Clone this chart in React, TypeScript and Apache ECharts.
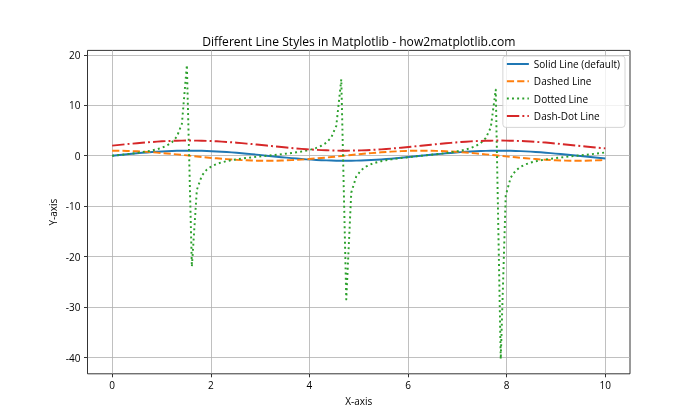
import React, { useEffect, useRef } from "react";
import * as echarts from "echarts";

const xs = [
  0.0, 0.101, 0.202, 0.303, 0.404, 0.505, 0.606, 0.707, 0.808, 0.909,
  1.01, 1.111, 1.212, 1.313, 1.414, 1.515, 1.616, 1.717, 1.818, 1.919,
  2.02, 2.121, 2.222, 2.323, 2.424, 2.525, 2.626, 2.727, 2.828, 2.929,
  3.03, 3.131, 3.232, 3.333, 3.434, 3.535, 3.636, 3.737, 3.838, 3.939,
  4.04, 4.141, 4.242, 4.343, 4.444, 4.545, 4.646, 4.747, 4.848, 4.949,
  5.051, 5.152, 5.253, 5.354, 5.455, 5.556, 5.657, 5.758, 5.859, 5.96,
  6.061, 6.162, 6.263, 6.364, 6.465, 6.566, 6.667, 6.768, 6.869, 6.97,
  7.071, 7.172, 7.273, 7.374, 7.475, 7.576, 7.677, 7.778, 7.879, 7.98,
  8.081, 8.182, 8.283, 8.384, 8.485, 8.586, 8.687, 8.788, 8.889, 8.99,
  9.091, 9.192, 9.293, 9.394, 9.495, 9.596, 9.697, 9.798, 9.899, 10.0,
];

const solidValues = [
  0.0, 0.1, 0.2, 0.3, 0.39, 0.48, 0.57, 0.65, 0.72, 0.79,
  0.85, 0.9, 0.94, 0.97, 0.99, 1.0, 1.0, 0.99, 0.97, 0.94,
  0.9, 0.85, 0.79, 0.73, 0.66, 0.58, 0.49, 0.4, 0.31, 0.21,
  0.11, 0.01, -0.09, -0.19, -0.29, -0.38, -0.48, -0.56, -0.64, -0.72,
  -0.78, -0.84, -0.89, -0.93, -0.96, -0.99, -1.0, -1.0, -0.99, -0.97,
  -0.94, -0.91, -0.86, -0.8, -0.74, -0.67, -0.59, -0.5, -0.41, -0.32,
  -0.22, -0.12, -0.02, 0.08, 0.18, 0.28, 0.37, 0.47, 0.55, 0.63,
  0.71, 0.78, 0.84, 0.89, 0.93, 0.96, 0.98, 1.0, 1.0, 0.99,
  0.97, 0.95, 0.91, 0.86, 0.81, 0.74, 0.67, 0.6, 0.51, 0.42,
  0.33, 0.23, 0.13, 0.03, -0.07, -0.17, -0.27, -0.36, -0.46, -0.54,
];

const dashedValues = [
  1.0, 0.99, 0.98, 0.95, 0.92, 0.88, 0.82, 0.76, 0.69, 0.61,
  0.53, 0.44, 0.35, 0.26, 0.16, 0.06, -0.05, -0.15, -0.25, -0.34,
  -0.44, -0.52, -0.61, -0.68, -0.75, -0.82, -0.87, -0.91, -0.95, -0.98,
  -0.99, -1.0, -1.0, -0.98, -0.96, -0.92, -0.88, -0.83, -0.77, -0.7,
  -0.62, -0.54, -0.45, -0.36, -0.26, -0.17, -0.07, 0.04, 0.14, 0.24,
  0.33, 0.43, 0.51, 0.6, 0.68, 0.75, 0.81, 0.86, 0.91, 0.95,
  0.98, 0.99, 1.0, 1.0, 0.98, 0.96, 0.93, 0.88, 0.83, 0.77,
  0.71, 0.63, 0.55, 0.46, 0.37, 0.27, 0.18, 0.08, -0.02, -0.13,
  -0.23, -0.32, -0.42, -0.51, -0.59, -0.67, -0.74, -0.8, -0.86, -0.91,
  -0.94, -0.97, -0.99, -1.0, -1.0, -0.99, -0.96, -0.93, -0.89, -0.84,
];

const dottedValues = [
  0.0, 0.1, 0.2, 0.31, 0.43, 0.55, 0.69, 0.85, 1.05, 1.28,
  1.59, 2.02, 2.67, 3.79, 6.33, 17.96, -22.0, -6.79, -3.95, -2.75,
  -2.07, -1.63, -1.31, -1.07, -0.87, -0.71, -0.57, -0.44, -0.33, -0.22,
  -0.11, -0.01, 0.09, 0.19, 0.3, 0.42, 0.54, 0.68, 0.84, 1.03,
  1.26, 1.56, 1.97, 2.58, 3.64, 5.93, 15.14, -28.47, -7.31, -4.13,
  -2.84, -2.13, -1.67, -1.34, -1.09, -0.89, -0.73, -0.58, -0.45, -0.34,
  -0.23, -0.12, -0.02, 0.08, 0.18, 0.29, 0.4, 0.53, 0.66, 0.82,
  1.0, 1.23, 1.52, 1.92, 2.51, 3.5, 5.58, 13.09, -40.3, -7.91,
  -4.33, -2.94, -2.19, -1.71, -1.37, -1.11, -0.91, -0.74, -0.6, -0.47,
  -0.35, -0.24, -0.13, -0.03, 0.07, 0.17, 0.28, 0.39, 0.51, 0.65,
];

const dashDotValues = [
  2.0, 2.1, 2.2, 2.3, 2.39, 2.48, 2.57, 2.65, 2.72, 2.79,
  2.85, 2.9, 2.94, 2.97, 2.99, 3.0, 3.0, 2.99, 2.97, 2.94,
  2.9, 2.85, 2.79, 2.73, 2.66, 2.58, 2.49, 2.4, 2.31, 2.21,
  2.11, 2.01, 1.91, 1.81, 1.71, 1.62, 1.52, 1.44, 1.36, 1.28,
  1.22, 1.16, 1.11, 1.07, 1.04, 1.01, 1.0, 1.0, 1.01, 1.03,
  1.06, 1.09, 1.14, 1.2, 1.26, 1.33, 1.41, 1.5, 1.59, 1.68,
  1.78, 1.88, 1.98, 2.08, 2.18, 2.28, 2.37, 2.47, 2.55, 2.63,
  2.71, 2.78, 2.84, 2.89, 2.93, 2.96, 2.98, 3.0, 3.0, 2.99,
  2.97, 2.95, 2.91, 2.86, 2.81, 2.74, 2.67, 2.6, 2.51, 2.42,
  2.33, 2.23, 2.13, 2.03, 1.93, 1.83, 1.73, 1.64, 1.54, 1.46,
];

const seriesNames = ["Solid Line (default)", "Dashed Line", "Dotted Line", "Dash-Dot Line"];
const xTicks = [0, 2, 4, 6, 8, 10];
const yTicks = [-40, -30, -20, -10, 0, 10, 20];

const FONT = "'Open Sans', 'Noto Sans', sans-serif";

export default function App() {
  const ref = useRef<HTMLDivElement>(null);
  useEffect(() => {
    document.body.style.margin = "0";
    const chart = echarts.init(ref.current!, null, { renderer: "svg" });
    const pair = (ys: number[]) => xs.map((x, i) => [x, ys[i]]);
    const lw = 1.94;
    const mk = (name: string, ys: number[], color: string, type: any) => ({
      name,
      type: "line",
      data: pair(ys),
      showSymbol: false,
      symbol: "none",
      lineStyle: { color, width: lw, type, cap: "butt", join: "round" },
      itemStyle: { color },
      emphasis: { disabled: true },
      silent: true,
    });
    chart.setOption({
      animation: false,
      textStyle: { fontFamily: FONT },
      grid: {
        left: 87.5,
        top: 50.4,
        width: 542.5,
        height: 323.4,
        show: true,
        borderColor: "#000",
        borderWidth: 0.8,
        backgroundColor: "transparent",
        containLabel: false,
      },
      xAxis: {
        type: "value",
        min: -0.5,
        max: 10.5,
        axisLine: { show: false, onZero: false },
        axisTick: { show: true, customValues: xTicks, length: 3.5, lineStyle: { color: "#000", width: 0.8 } },
        axisLabel: {
          customValues: xTicks,
          margin: 6,
          color: "#000",
          fontSize: 10,
          fontFamily: FONT,
        },
        splitLine: { show: true, lineStyle: { color: "#b0b0b0", width: 0.8 } },
      },
      yAxis: {
        type: "value",
        min: -43.22,
        max: 20.87,
        axisLine: { show: false, onZero: false },
        axisTick: { show: true, customValues: yTicks, length: 3.5, lineStyle: { color: "#000", width: 0.8 } },
        axisLabel: {
          customValues: yTicks,
          margin: 7,
          color: "#000",
          fontSize: 10,
          fontFamily: FONT,
        },
        splitLine: { show: true, lineStyle: { color: "#b0b0b0", width: 0.8 } },
      },
      legend: {
        data: seriesNames,
        orient: "vertical",
        right: 75,
        top: 56,
        itemWidth: 22,
        itemHeight: 12,
        itemGap: 7.3,
        padding: [3, 5, 6.5, 3],
        backgroundColor: "rgba(255,255,255,0.8)",
        borderColor: "#cccccc",
        borderWidth: 0.8,
        borderRadius: 3,
        itemStyle: { opacity: 0 },
        textStyle: { color: "#000", fontSize: 10, fontFamily: FONT },
        selectedMode: false,
      },
      graphic: [
        {
          type: "text",
          x: 358.75,
          y: 41,
          style: {
            text: "Different Line Styles in Matplotlib - how2matplotlib.com",
            fill: "#000",
            fontSize: 12.1,
            fontFamily: FONT,
            textAlign: "center",
            textVerticalAlign: "middle",
          },
        },
        {
          type: "text",
          x: 358.75,
          y: 401,
          style: {
            text: "X-axis",
            fill: "#000",
            fontSize: 10,
            fontFamily: FONT,
            textAlign: "center",
            textVerticalAlign: "middle",
          },
        },
        {
          type: "text",
          x: 53,
          y: 212.1,
          rotation: Math.PI / 2,
          style: {
            text: "Y-axis",
            fill: "#000",
            fontSize: 10,
            fontFamily: FONT,
            textAlign: "center",
            textVerticalAlign: "middle",
          },
        },
      ],
      series: [
        mk(seriesNames[0], solidValues, "#1f77b4", "solid"),
        mk(seriesNames[1], dashedValues, "#ff7f0e", [7.2, 3.1]),
        mk(seriesNames[2], dottedValues, "#2ca02c", [1.94, 3.2]),
        mk(seriesNames[3], dashDotValues, "#d62728", [12.4, 3.1, 1.94, 3.1]),
      ],
    });
    return () => chart.dispose();
  }, []);
  return (
    <div
      ref={ref}
      style={{ position: "fixed", left: 0, top: 0, width: 700, height: 420 }}
    />
  );
}
